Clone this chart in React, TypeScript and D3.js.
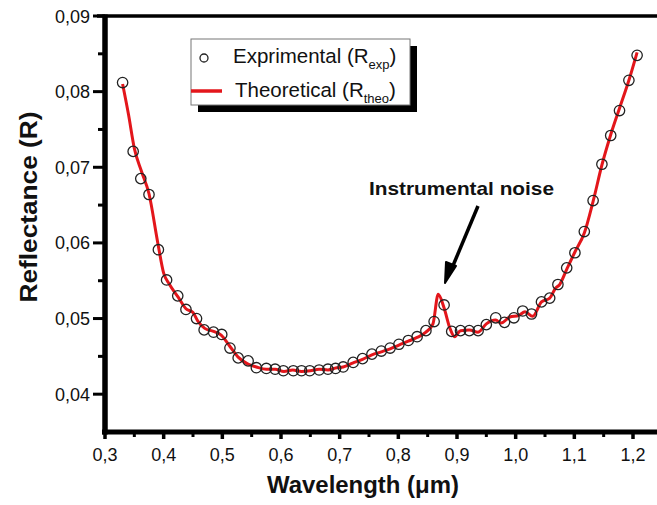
import * as d3 from 'd3';

// experimental points (circles)
const expWl = [0.330, 0.348, 0.361, 0.375, 0.391, 0.405, 0.424, 0.438, 0.456, 0.469, 0.485, 0.499, 0.513, 0.527, 0.544, 0.558, 0.575, 0.590, 0.604, 0.621, 0.635, 0.649, 0.665, 0.680, 0.693, 0.706, 0.723, 0.739, 0.755, 0.771, 0.786, 0.801, 0.817, 0.832, 0.847, 0.861, 0.878, 0.891, 0.906, 0.921, 0.936, 0.950, 0.966, 0.981, 0.997, 1.012, 1.027, 1.044, 1.058, 1.072, 1.087, 1.101, 1.117, 1.132, 1.147, 1.162, 1.177, 1.193, 1.207];
const expR = [0.0812, 0.0721, 0.0685, 0.0664, 0.0591, 0.0551, 0.0530, 0.0512, 0.0500, 0.0485, 0.0482, 0.0479, 0.0461, 0.0448, 0.0444, 0.0435, 0.0434, 0.0433, 0.0431, 0.0431, 0.0431, 0.0431, 0.0432, 0.0433, 0.0434, 0.0436, 0.0442, 0.0447, 0.0453, 0.0457, 0.0461, 0.0466, 0.0471, 0.0476, 0.0484, 0.0496, 0.0518, 0.0483, 0.0484, 0.0484, 0.0484, 0.0492, 0.0501, 0.0495, 0.0501, 0.0510, 0.0506, 0.0522, 0.0527, 0.0545, 0.0567, 0.0587, 0.0615, 0.0656, 0.0704, 0.0742, 0.0775, 0.0815, 0.0848];

// theoretical curve (red)
const theoWl = [0.330, 0.340, 0.350, 0.362, 0.375, 0.390, 0.400, 0.410, 0.425, 0.438, 0.450, 0.458, 0.470, 0.485, 0.498, 0.513, 0.527, 0.543, 0.558, 0.575, 0.590, 0.605, 0.620, 0.635, 0.650, 0.665, 0.680, 0.695, 0.706, 0.722, 0.739, 0.755, 0.771, 0.786, 0.801, 0.817, 0.832, 0.847, 0.859, 0.868, 0.878, 0.888, 0.896, 0.906, 0.921, 0.936, 0.950, 0.966, 0.975, 0.990, 1.005, 1.016, 1.029, 1.044, 1.058, 1.068, 1.075, 1.087, 1.101, 1.117, 1.132, 1.147, 1.162, 1.177, 1.193, 1.207];
const theoR = [0.0810, 0.0770, 0.0725, 0.0695, 0.0665, 0.0600, 0.0560, 0.0545, 0.0528, 0.0513, 0.0508, 0.0497, 0.0487, 0.0483, 0.0478, 0.0463, 0.0449, 0.0440, 0.0436, 0.0433, 0.0433, 0.0430, 0.0432, 0.0430, 0.0431, 0.0433, 0.0432, 0.0435, 0.0436, 0.0441, 0.0446, 0.0452, 0.0456, 0.0460, 0.0465, 0.0470, 0.0475, 0.0482, 0.0493, 0.0532, 0.0514, 0.0487, 0.0476, 0.0484, 0.0485, 0.0482, 0.0493, 0.0498, 0.0494, 0.0502, 0.0504, 0.0509, 0.0503, 0.0522, 0.0527, 0.0540, 0.0545, 0.0565, 0.0588, 0.0613, 0.0655, 0.0703, 0.0743, 0.0778, 0.0815, 0.0852];

const xMajor = [0.3, 0.4, 0.5, 0.6, 0.7, 0.8, 0.9, 1.0, 1.1, 1.2];
const xMinor = [0.35, 0.45, 0.55, 0.65, 0.75, 0.85, 0.95, 1.05, 1.15];
const yMajor = [0.04, 0.05, 0.06, 0.07, 0.08, 0.09];
const yMinor = [0.045, 0.055, 0.065, 0.075, 0.085];

const fmt = (v: number, d: number) => v.toFixed(d).replace('.', ',');

export default function App() {
  const W = 657, H = 505;
  const x = d3.scaleLinear().domain([0.3, 1.2]).range([105, 633]);
  const y = d3.scaleLinear().domain([0.035, 0.09]).range([432, 16]);
  const left = x(0.3), bottom = y(0.035), top = y(0.09);

  const line = d3.line<number>()
    .x((d, i) => x(theoWl[i]))
    .y((d) => y(d))
    .curve(d3.curveMonotoneX);

  const font = 'Arial, "Liberation Sans", Helvetica, sans-serif';
  const red = '#e3161b';

  return (
    <svg width={W} height={H} style={{ position: 'absolute', left: 0, top: 0, background: '#fff' }} fontFamily={font}>
      {/* top border */}
      <line x1={left - 8} x2={W} y1={top} y2={top} stroke="#000" strokeWidth={3.5} />

      {/* data */}
      <path d={line(theoR) || ''} fill="none" stroke={red} strokeWidth={3} strokeLinejoin="round" />
      {expWl.map((w, i) => (
        <circle key={i} cx={x(w)} cy={y(expR[i])} r={5.2} fill="none" stroke="#222" strokeWidth={1.3} />
      ))}

      {/* x axis */}
      <line x1={left - 3} x2={W} y1={bottom} y2={bottom} stroke="#000" strokeWidth={5} />
      {xMajor.map((t) => (
        <g key={'xM' + t}>
          <line x1={x(t)} x2={x(t)} y1={bottom} y2={bottom + 7} stroke="#000" strokeWidth={3.5} />
          <text x={x(t)} y={461} fontSize={18} textAnchor="middle" fill="#111">{fmt(t, 1)}</text>
        </g>
      ))}
      {xMinor.map((t) => (
        <line key={'xm' + t} x1={x(t)} x2={x(t)} y1={bottom} y2={bottom + 5} stroke="#000" strokeWidth={3} />
      ))}

      {/* y axis */}
      <line x1={left} x2={left} y1={top - 1.5} y2={bottom + 2.5} stroke="#000" strokeWidth={5.5} />
      {yMajor.map((t) => (
        <g key={'yM' + t}>
          <line x1={left - 12} x2={left} y1={y(t)} y2={y(t)} stroke="#000" strokeWidth={3} />
          <text x={90} y={y(t) + 6.5} fontSize={18} textAnchor="end" fill="#111">{fmt(t, 2)}</text>
        </g>
      ))}
      {yMinor.map((t) => (
        <line key={'ym' + t} x1={left - 7} x2={left} y1={y(t)} y2={y(t)} stroke="#000" strokeWidth={3} />
      ))}

      {/* axis titles */}
      <text transform="translate(37,207) rotate(-90)" fontSize={24} fontWeight="bold" textAnchor="middle"
        textLength={191} lengthAdjust="spacingAndGlyphs" fill="#111">Reflectance (R)</text>
      <text x={363} y={493} fontSize={23} fontWeight="bold" textAnchor="middle"
        textLength={192} lengthAdjust="spacingAndGlyphs" fill="#111">Wavelength (μm)</text>

      {/* legend */}
      <rect x={198} y={46} width={219} height={66} fill="#000" />
      <rect x={191} y={39} width={219} height={66} fill="#fff" stroke="#777" strokeWidth={1} />
      <circle cx={204} cy={58} r={4} fill="none" stroke="#222" strokeWidth={1.3} />
      <text x={233} y={63} fontSize={20.5} fill="#111">
        Exprimental (R<tspan fontSize={13} dy={6}>exp</tspan><tspan dy={-6}>)</tspan>
      </text>
      <line x1={191} x2={222} y1={91} y2={91} stroke={red} strokeWidth={3.5} />
      <text x={235} y={97} fontSize={20.5} fill="#111">
        Theoretical (R<tspan fontSize={13} dy={6}>theo</tspan><tspan dy={-6}>)</tspan>
      </text>

      {/* annotation */}
      <text x={369} y={195} fontSize={19} fontWeight="bold" textLength={185} lengthAdjust="spacingAndGlyphs" fill="#111">
        Instrumental noise
      </text>
      <line x1={478} y1={206} x2={452} y2={268} stroke="#000" strokeWidth={3.5} />
      <path d="M445,283 L446,262 L456,266 Z" fill="#000" stroke="#000" strokeWidth={2} strokeLinejoin="round" />
    </svg>
  );
}
